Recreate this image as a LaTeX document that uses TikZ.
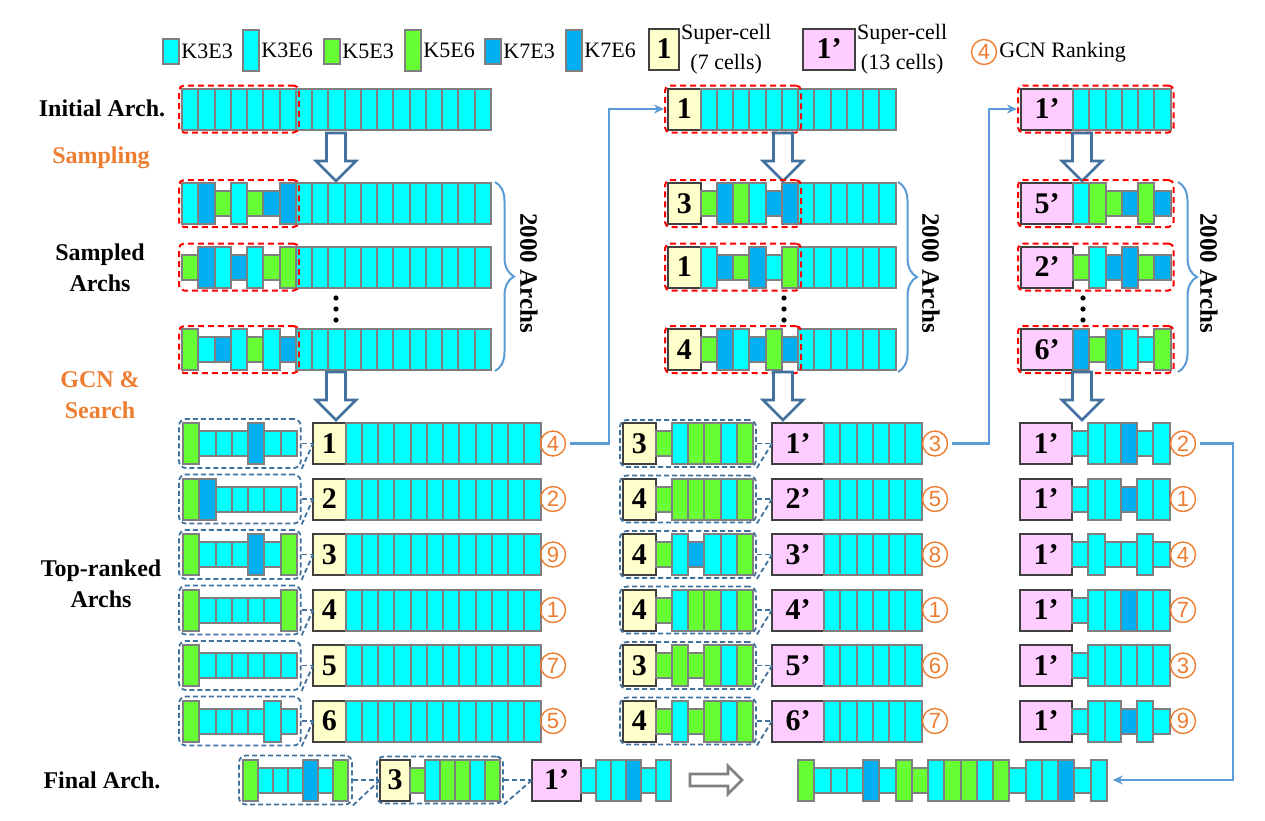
\documentclass[tikz,border=0pt]{standalone}
\usepackage{fontspec}
\setmainfont{Liberation Serif}
\newfontfamily\rankfont{Liberation Sans}
\usepackage{tikz}
\usetikzlibrary{shapes,arrows.meta,backgrounds,%
positioning,fit,calc,decorations.pathreplacing%
}

\definecolor{kcyan}{HTML}{00FFFF}
\definecolor{kgreen}{HTML}{66FF33}
\definecolor{kblue}{HTML}{00B0F0}
\definecolor{cellgray}{HTML}{7F7F7F}
\definecolor{supyel}{HTML}{FFFFCC}
\definecolor{suppink}{HTML}{FFCCFF}
\definecolor{supline}{HTML}{404040}
\definecolor{boxblue}{HTML}{41719C}
\definecolor{linkblue}{HTML}{5B9BD5}
\definecolor{rankor}{HTML}{ED7D31}

\newcommand\cw{16.25}
\newcommand\archrow[4]{%
  \edef\celllist{#4}%
  \foreach \kind [count=\i] in \celllist
    \node[\kind] (#1-\i) at ({#2+(\i-1)*\cw},#3) {};%
}
\newcommand\tailrow[4]{%
  \foreach \i in {1,...,#4}
    \node[cT] (#1-\i) at ({#2+(\i-1)*\cw},#3) {};%
}

\tikzset{
  cell/.style={draw=cellgray, line width=2pt, inner sep=0pt, outer sep=0pt, anchor=west, minimum width=\cw*1pt},
  tall/.style={cell, minimum height=41pt},
  short/.style={cell, minimum height=25pt},
  cT/.style={tall, fill=kcyan}, cS/.style={short, fill=kcyan},
  gT/.style={tall, fill=kgreen}, gS/.style={short, fill=kgreen},
  bT/.style={tall, fill=kblue}, bS/.style={short, fill=kblue},
  supA/.style={draw=supline, line width=2pt, fill=supyel, inner sep=0pt, outer sep=0pt, anchor=west,
    minimum width=32.5pt, minimum height=41pt, font=\bfseries\fontsize{30}{30}\selectfont},
  supB/.style={supA, fill=suppink, minimum width=52pt},
  rank/.style={circle, draw=rankor, text=rankor, line width=1.4pt, minimum size=25pt, inner sep=0pt,
    font=\rankfont\fontsize{22}{22}\selectfont},
  redbox/.style={draw=red, line width=2pt, dash pattern=on 6pt off 4pt, rounded corners=5pt, inner sep=3pt},
  bluebox/.style={draw=boxblue, line width=1.8pt, dash pattern=on 5pt off 3pt, rounded corners=7pt, inner sep=4pt},
  zoomln/.style={draw=boxblue, line width=1.8pt, dash pattern=on 5pt off 3pt},
  link/.style={draw=linkblue, line width=2.2pt, shorten <=4pt, -{Stealth[length=10pt,width=9pt]}},
  brc/.style={draw=linkblue, line width=2pt, decorate, decoration={brace, amplitude=19pt}},
  hollow/.style={draw=boxblue, line width=2.6pt, fill=white},
  legend/.style={inner sep=1pt, font=\fontsize{22}{30}\selectfont},
  stage/.style={inner sep=0pt, align=center, font=\bfseries\fontsize{24}{31}\selectfont},
  archs/.style={inner sep=0pt, rotate=-90, font=\bfseries\fontsize{25}{25}\selectfont},
  downarr/.pic={\draw[hollow] (-9.5,0) -- (-9.5,28) -- (-20,28) -- (0,48) -- (20,28) -- (9.5,28) -- (9.5,0) -- cycle;}
}

\begin{document}
\begin{tikzpicture}[x=1pt,y=-1pt]
\useasboundingbox (0,0) rectangle (1265,820);

\node[cS] (lgA) at (163,51) {};
\node[legend, right=1pt of lgA] (ltA) {K3E3};
\node[cT] (lgB) at (243,50) {};
\node[legend, right=1pt of lgB] (ltB) {K3E6};
\node[gS] (lgC) at (324,51) {};
\node[legend, right=1pt of lgC] (ltC) {K5E3};
\node[gT] (lgD) at (405,50) {};
\node[legend, right=1pt of lgD] (ltD) {K5E6};
\node[bS] (lgE) at (485,51) {};
\node[legend, right=1pt of lgE] (ltE) {K7E3};
\node[bT] (lgF) at (566,50) {};
\node[legend, right=1pt of lgF] (ltF) {K7E6};
\node[supA, minimum width=30pt] (lgG) at (649,49) {1};
\node[legend, align=center, right=1pt of lgG] (ltG) {Super-cell\\(7 cells)};
\node[supB] (lgH) at (803,49) {1'};
\node[legend, align=center, right=1pt of lgH] (ltH) {Super-cell\\(13 cells)};
\node[rank] (lgI) at (984,52) {4};
\node[legend, right=1pt of lgI] (ltI) {GCN Ranking};

\node[stage] (lbInit) at (102,108) {Initial Arch.};
\node[stage, text=rankor] (lbSamp) at (101,158) {Sampling};
\node[stage] (lbSampled) at (100,268) {Sampled\\Archs};
\node[stage, text=rankor] (lbGcn) at (100,395) {GCN \&\\Search};
\node[stage] (lbTop) at (101,584) {Top-ranked\\Archs};
\node[stage] (lbFinal) at (102,780) {Final Arch.};

% left column
\archrow{ia}{182}{109}{cT,cT,cT,cT,cT,cT,cT}
\tailrow{ib}{182+7*\cw}{109}{12}
\node[redbox, fit=(ia-1)(ia-7)] (redL0) {};
\pic at (336,133) {downarr};
\foreach \row/\pat/\yy in {1/{cT,bT,gS,cT,gS,bS,bT}/203.5, 2/{gS,bT,cT,bS,cT,gS,gT}/267,
    3/{gT,cS,bS,cT,gS,cT,bS}/349.5}{
  \archrow{la\row}{182}{\yy}{\pat}
  \tailrow{lb\row}{182+7*\cw}{\yy}{12}
  \node[redbox, fit=(la\row-1)(la\row-7)] (redL\row) {};
}
\foreach \yy in {298,309,320} \fill (336,\yy) circle (2.6);
\draw[brc] (495,182) -- (495,371);
\node[archs] (nL) at (529,273) {2000 Archs};
\pic at (336,372) {downarr};

\foreach \row/\pat/\num/\rk in {1/{gT,cS,cS,cS,bT,cS,cS}/1/4, 2/{gT,bT,cS,cS,cS,cS,cS}/2/2,
    3/{gT,cS,cS,cS,bT,cS,gT}/3/9, 4/{gT,cS,cS,cS,cS,cS,gT}/4/1,
    5/{gT,cS,cS,cS,cS,cS,cS}/5/7, 6/{gT,cS,cS,cS,cS,cT,cS}/6/5}{
  \pgfmathsetmacro\yy{443.5+(\row-1)*55.5}
  \archrow{pl\row}{183}{\yy}{\pat}
  \node[bluebox, fit=(pl\row-1)(pl\row-7)] (bl\row) {};
  \node[supA] (sl\row) at (313,\yy) {\num};
  \tailrow{ql\row}{313+32.5}{\yy}{12}
  \node[rank] (rl\row) at (553,\yy) {\rk};
  \draw[zoomln] (bl\row.east) -- (sl\row.west);
  \draw[zoomln] (bl\row.south east) -- (sl\row.west);
}

% middle column
\node[supA] (ma0) at (668,109) {1};
\tailrow{mb0}{668+32.5}{109}{12}
\node[redbox, fit=(ma0)(mb0-6)] (redM0) {};
\pic at (783,133) {downarr};
\foreach \row/\num/\pat/\yy in {1/3/{gS,bT,gT,cT,bS,bT}/203.5, 2/1/{cT,bS,gS,bT,cS,gT}/267,
    3/4/{gS,bT,cT,bS,gT,bS}/349.5}{
  \node[supA] (ma\row) at (668,\yy) {\num};
  \archrow{mc\row}{700.5}{\yy}{\pat}
  \tailrow{mb\row}{700.5+6*\cw}{\yy}{6}
  \node[redbox, fit=(ma\row)(mc\row-6)] (redM\row) {};
}
\foreach \yy in {298,309,320} \fill (784,\yy) circle (2.6);
\draw[brc] (898,182) -- (898,372);
\node[archs] (nM) at (931,273) {2000 Archs};
\pic at (783,372) {downarr};

\foreach \row/\pat/\num/\rk in {1/{gS,cT,gT,gT,cT,gT}/3/3, 2/{gS,gT,gT,gT,cT,gT}/4/5,
    3/{gS,cT,bS,cT,cT,gT}/4/8, 4/{gS,cT,gT,gT,cT,gT}/4/1,
    5/{gS,gT,gS,gT,cT,gT}/3/6, 6/{gS,cT,gS,gT,cT,gT}/4/7}{
  \pgfmathsetmacro\yy{443.5+(\row-1)*55.5}
  \node[supA] (sm\row) at (623,\yy) {\num};
  \archrow{pm\row}{655.5}{\yy}{\pat}
  \node[bluebox, inner sep=3pt, fit=(sm\row)(pm\row-6)] (bm\row) {};
  \node[supB] (tm\row) at (772,\yy) {\row'};
  \tailrow{qm\row}{824}{\yy}{6}
  \node[rank] (rm\row) at (935,\yy) {\rk};
  \draw[zoomln] (bm\row.east) -- (tm\row.west);
  \draw[zoomln] (bm\row.south east) -- (tm\row.west);
}

% right column
\node[supB] (ra0) at (1021,109) {1'};
\tailrow{rb0}{1073}{109}{6}
\node[redbox, fit=(ra0)(rb0-6)] (redR0) {};
\pic at (1082,133) {downarr};
\foreach \row/\num/\pat/\yy in {1/5/{cT,gT,gS,bS,gT,bS}/203.5, 2/2/{gS,cT,bS,bT,gS,bS}/267,
    3/6/{bT,gS,bT,cT,cS,gT}/349.5}{
  \node[supB] (ra\row) at (1021,\yy) {\num'};
  \archrow{rc\row}{1073}{\yy}{\pat}
  \node[redbox, fit=(ra\row)(rc\row-6)] (redR\row) {};
}
\foreach \yy in {298,309,320} \fill (1083,\yy) circle (2.6);
\draw[brc] (1178,182) -- (1178,372);
\node[archs] (nR) at (1209,273) {2000 Archs};
\pic at (1082,372) {downarr};

\foreach \row/\pat/\rk in {1/{cS,cT,cT,bT,cS,cT}/2, 2/{cS,cT,cT,bS,cT,cT}/1,
    3/{cS,cT,cS,cS,cT,cS}/4, 4/{cS,cT,cT,bT,cT,cT}/7,
    5/{cS,cT,cT,cT,cT,cT}/3, 6/{cS,cT,cT,bS,cT,cS}/9}{
  \pgfmathsetmacro\yy{443.5+(\row-1)*55.5}
  \node[supB] (sr\row) at (1020,\yy) {1'};
  \archrow{pr\row}{1072}{\yy}{\pat}
  \node[rank] (rr\row) at (1183,\yy) {\rk};
}

% final arch
\renewcommand\cw{15}
\archrow{fa}{243}{780}{gT,cS,cS,cS,bT,cS,gT}
\node[bluebox, fit=(fa-1)(fa-7)] (fba) {};
\node[supA, minimum width=30pt] (fsa) at (380,780) {3};
\archrow{fb}{410}{780}{gS,cT,gT,gT,cT,gT}
\node[bluebox, inner sep=3pt, fit=(fsa)(fb-6)] (fbb) {};
\node[supB, minimum width=49pt] (fsb) at (532,780) {1'};
\archrow{fc}{581}{780}{cS,cT,cT,bT,cS,cT}
\draw[zoomln] (fba.east) -- (fsa.west);
\draw[zoomln] (fba.south east) -- (fsa.west);
\draw[zoomln] (fbb.east) -- (fsb.west);
\draw[zoomln] (fbb.south east) -- (fsb.west);
\draw[hollow, draw=cellgray] (690,774) -- (728,774) -- (728,766) -- (742,780) -- (728,794) -- (728,786) -- (690,786) -- cycle;
\renewcommand\cw{16.25}
\archrow{fin}{798}{780}{gT,cS,cS,cS,bT,cS,gT,gS,cT,gT,gT,cT,gT,cS,cT,cT,bT,cS,cT}

% links
\draw[link] (rl1.east) -- ++(43,0) |- (redM0.west);
\draw[link] (rm1.east) -- ++(41,0) |- (redR0.west);
\draw[link, shorten >=6pt] (rr1.east) -- ++(37,0) |- (fin-19.east);
\end{tikzpicture}
\end{document}
